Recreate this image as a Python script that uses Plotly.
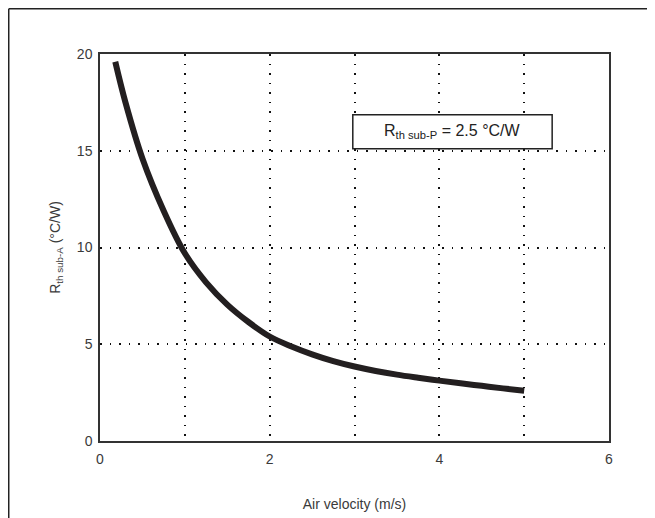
import plotly.graph_objects as go

# Data
air_velocity = [0.18, 0.3, 0.5, 0.75, 1.0, 1.25, 1.5, 1.75, 2.0, 2.25, 2.5, 2.75, 3.0,
                3.25, 3.5, 3.75, 4.0, 4.25, 4.5, 4.75, 5.0]
rth_sub_a = [19.6, 17.5, 14.6, 11.9, 9.7, 8.2, 7.05, 6.15, 5.4, 4.9, 4.48, 4.13, 3.85,
             3.62, 3.43, 3.27, 3.12, 2.98, 2.85, 2.72, 2.6]

x_ticks = [0, 2, 4, 6]
y_ticks = [0, 5, 10, 15, 20]
note_text = "R<sub>th sub-P</sub> = 2.5 °C/W"
note_box = dict(x0=2.98, x1=5.33, y0=15.1, y1=16.86)

font_family = "Liberation Sans, Arial, sans-serif"
text_color = "#3a3a3a"

fig = go.Figure()
fig.add_trace(go.Scatter(
    x=air_velocity, y=rth_sub_a, mode="lines",
    line=dict(color="#231f20", width=6, shape="spline", smoothing=1.0),
    showlegend=False, hoverinfo="skip",
))

grid_common = dict(
    showgrid=True, gridcolor="#111111", gridwidth=1.5, griddash="1.5px,8px",
    showline=True, linecolor="#333333", linewidth=1.5, mirror=True,
    zeroline=False, ticks="",
    tickfont=dict(family=font_family, size=14, color=text_color),
)

fig.update_xaxes(
    range=[0, 6], tickvals=x_ticks, ticklabelstandoff=4,
    title=dict(text="Air velocity (m/s)", font=dict(family=font_family, size=14, color=text_color), standoff=34),
    minor=dict(showgrid=True, gridcolor="#111111", griddash="1.5px,8px", gridwidth=1.5, tickvals=[1, 3, 5]),
    **grid_common,
)
fig.update_yaxes(
    range=[0, 20], tickvals=y_ticks, ticklabelstandoff=3,
    title=dict(text="R<sub>th sub-A</sub> (°C/W)", font=dict(family=font_family, size=14, color=text_color), standoff=13),
    **grid_common,
)

fig.add_shape(type="rect", xref="x", yref="y", **note_box,
              line=dict(color="#222222", width=1.5), fillcolor="white", layer="above")
fig.add_annotation(
    x=(note_box["x0"] + note_box["x1"]) / 2, y=(note_box["y0"] + note_box["y1"]) / 2,
    xref="x", yref="y", text=note_text, showarrow=False,
    font=dict(family=font_family, size=16, color="#222222"),
)

# Outer frame (left and top lines)
frame_x = -0.1793
frame_y = 1.1169
fig.add_shape(type="line", xref="paper", yref="paper", x0=frame_x, x1=frame_x, y0=-0.3, y1=frame_y,
              line=dict(color="#222222", width=1.5))
fig.add_shape(type="line", xref="paper", yref="paper", x0=frame_x, x1=1.3, y0=frame_y, y1=frame_y,
              line=dict(color="#222222", width=1.5))

fig.update_layout(
    width=655, height=518,
    margin=dict(l=92, r=54, t=46, b=85),
    paper_bgcolor="white", plot_bgcolor="white",
    font=dict(family=font_family, color=text_color),
)

fig.write_html("out.html")
